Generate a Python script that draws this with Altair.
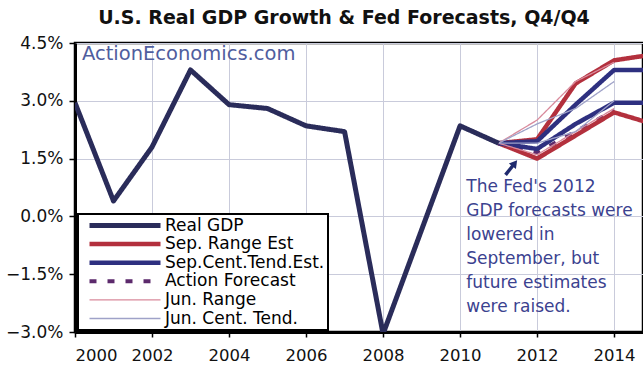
import altair as alt
import pandas as pd

# ---- data ----
gdp_years = [2000, 2001, 2002, 2003, 2004, 2005, 2006, 2007, 2008, 2010, 2011]
gdp_vals = [2.95, 0.4, 1.8, 3.8, 2.9, 2.8, 2.35, 2.2, -3.05, 2.35, 1.9]

sep_years = [2011, 2012, 2013, 2014, 2015]
sep_range_hi = [1.9, 2.0, 3.45, 4.05, 4.2]
sep_range_lo = [1.9, 1.5, 2.1, 2.7, 2.4]
sep_ct_hi = [1.9, 1.95, 2.9, 3.8, 3.8]
sep_ct_lo = [1.9, 1.75, 2.4, 2.95, 2.95]

jun_years = [2011, 2012, 2013, 2014]
action_vals = [1.9, 1.65, 2.2, 2.75]
jun_range_hi = [1.9, 2.5, 3.5, 4.0]
jun_range_lo = [1.9, 1.6, 2.2, 2.8]
jun_ct_hi = [1.9, 2.4, 2.8, 3.5]
jun_ct_lo = [1.9, 1.9, 2.2, 3.0]

series_names = ["Real GDP", "Sep. Range Est", "Sep.Cent.Tend.Est.",
                "Action Forecast", "Jun. Range", "Jun. Cent. Tend."]
series_colors = ["#2a2c5a", "#b3303d", "#2e3080", "#5c2a6c", "#d98a9c", "#9fa2c8"]
series_widths = [5, 4.5, 4.5, 4, 1.3, 1.3]
series_dashes = [[1, 0], [1, 0], [1, 0], [7, 11], [1, 0], [1, 0]]

y_ticks = [-3, -1.5, 0, 1.5, 3, 4.5]
x_ticks = [2000, 2002, 2004, 2006, 2008, 2010, 2012, 2014]

watermark = "ActionEconomics.com"
note_text = "The Fed's 2012\nGDP forecasts were\nlowered in\nSeptember, but\nfuture estimates\nwere raised."

# ---- build table ----
rows = []
def add(series, line, years, vals):
    for yr, v in zip(years, vals):
        rows.append({"series": series, "line": line, "year": yr, "value": v})

add("Real GDP", "gdp", gdp_years, gdp_vals)
add("Sep. Range Est", "sr_hi", sep_years, sep_range_hi)
add("Sep. Range Est", "sr_lo", sep_years, sep_range_lo)
add("Sep.Cent.Tend.Est.", "sc_hi", sep_years, sep_ct_hi)
add("Sep.Cent.Tend.Est.", "sc_lo", sep_years, sep_ct_lo)
add("Action Forecast", "act", jun_years, action_vals)
add("Jun. Range", "jr_hi", jun_years, jun_range_hi)
add("Jun. Range", "jr_lo", jun_years, jun_range_lo)
add("Jun. Cent. Tend.", "jc_hi", jun_years, jun_ct_hi)
add("Jun. Cent. Tend.", "jc_lo", jun_years, jun_ct_lo)
df = pd.DataFrame(rows)

FONT = "DejaVu Sans"

x_scale = alt.Scale(domain=[2000, 2014.75], nice=False, zero=False)
y_scale = alt.Scale(domain=[-3, 4.5], nice=False, zero=False)

x_axis = alt.Axis(values=x_ticks, format="d", title=None, grid=True,
                  gridColor="#c9cbdb", gridWidth=1, domainColor="black", domainWidth=3,
                  tickColor="black", tickSize=5, tickWidth=1.5, labelFont=FONT,
                  labelFontSize=16.5, labelColor="#111", labelPadding=10)
y_axis = alt.Axis(values=y_ticks, labelExpr="format(datum.value,'.1f')+'%'", title=None,
                  grid=True, gridColor="#c9cbdb", gridWidth=1, domainColor="black",
                  domainWidth=3, tickColor="black", tickSize=6, tickWidth=1.5,
                  labelFont=FONT, labelFontSize=17, labelColor="#111", labelPadding=6)

leg = alt.Legend(orient="none", legendX=3, legendY=171, title=None, symbolType="stroke",
                 symbolSize=5041, clipHeight=17, rowPadding=0.6, padding=3,
                 symbolOffset=6, labelFont=FONT, labelFontSize=17, labelColor="black",
                 labelLimit=300, labelOffset=2, strokeColor="black", fillColor="white")

enc = dict(
    x=alt.X("year:Q", scale=x_scale, axis=x_axis),
    y=alt.Y("value:Q", scale=y_scale, axis=y_axis),
    color=alt.Color("series:N", scale=alt.Scale(domain=series_names, range=series_colors), legend=leg),
    strokeWidth=alt.StrokeWidth("series:N", scale=alt.Scale(type="ordinal", domain=series_names, range=series_widths), legend=leg),
    strokeDash=alt.StrokeDash("series:N", scale=alt.Scale(domain=series_names, range=series_dashes), legend=leg),
    detail="line:N",
)

base = alt.Chart(df)
def layer(names):
    return base.transform_filter(
        alt.FieldOneOfPredicate(field="series", oneOf=names)
    ).mark_line(clip=True, strokeJoin="round", strokeCap="butt").encode(**enc)

lines = [
    layer(["Action Forecast"]),
    layer(["Sep. Range Est"]),
    layer(["Sep.Cent.Tend.Est."]),
    layer(["Jun. Range", "Jun. Cent. Tend."]),
    layer(["Real GDP"]),
]

wm = alt.Chart(pd.DataFrame({"year": [2000.18], "value": [4.21], "t": [watermark]})).mark_text(
    align="left", baseline="middle", font=FONT, fontSize=19.5, color="#4f5d9e"
).encode(x=alt.X("year:Q", scale=x_scale), y=alt.Y("value:Q", scale=y_scale), text="t:N")

note = alt.Chart(pd.DataFrame({"year": [2010.16], "value": [0.98], "t": [note_text]})).mark_text(
    align="left", baseline="top", font=FONT, fontSize=17, color="#3b428f",
    lineBreak="\n", lineHeight=24
).encode(x=alt.X("year:Q", scale=x_scale), y=alt.Y("value:Q", scale=y_scale), text="t:N")

arrow_df = pd.DataFrame({"year": [2011.18], "value": [1.08], "year2": [2011.42], "value2": [1.38]})
arrow_line = alt.Chart(arrow_df).mark_rule(color="#1f2a6e", strokeWidth=3.5).encode(
    x=alt.X("year:Q", scale=x_scale), y=alt.Y("value:Q", scale=y_scale),
    x2="year2:Q", y2="value2:Q")
arrow_head = alt.Chart(arrow_df).mark_point(
    shape="triangle-up", filled=True, color="#1f2a6e", size=80, angle=38, opacity=1
).encode(x=alt.X("year2:Q", scale=x_scale), y=alt.Y("value2:Q", scale=y_scale))

chart = alt.layer(*lines, wm, note, arrow_line, arrow_head).properties(
    width=568, height=289,
    title=alt.TitleParams(text="U.S. Real GDP Growth & Fed Forecasts, Q4/Q4", font=FONT,
                          fontSize=19, fontWeight="bold", color="#111", anchor="middle",
                          offset=6, dx=-15),
    autosize=alt.AutoSizeParams(type="none"),
    padding={"left": 75, "top": 43, "right": 0, "bottom": 41},
    background="white",
).configure_view(stroke="black", strokeWidth=2.5).configure_legend(strokeWidth=2)

chart.save("out.html", embed_options={"renderer": "svg", "actions": False})
